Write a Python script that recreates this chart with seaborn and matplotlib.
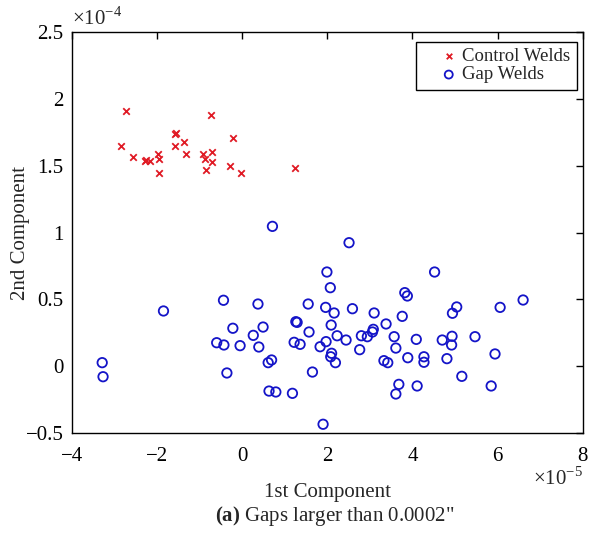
import matplotlib
matplotlib.use("Agg")
import matplotlib.pyplot as plt
import seaborn as sns
import pandas as pd

# 1st component in units of 1e-5, 2nd component in units of 1e-4
control_x = [-2.73, -0.74, -1.58, -1.56, -0.21, -2.85, -1.36, -1.57, -2.57, -2.28,
             -2.17, -2.25, -1.99, -1.96, -1.96, -1.32, -0.92, -0.88, -0.71, -0.71,
             -0.85, -0.28, -0.02, 1.25]
control_y = [1.905, 1.877, 1.733, 1.74, 1.706, 1.646, 1.673, 1.644, 1.564, 1.534,
             1.534, 1.54, 1.584, 1.547, 1.444, 1.584, 1.584, 1.547, 1.601, 1.529,
             1.467, 1.494, 1.442, 1.484]

gap_x = [0.71, -1.85, -0.44, 0.37, -0.22, 0.49, 0.26, -0.60, -0.43, -0.05,
         0.39, 0.61, 0.69, -0.36, -3.29, -3.27, 0.63, 0.79,
         2.51, 1.99, 4.52, 2.07, 3.82, 3.88, 6.60, 1.55, 1.96, 2.59,
         5.04, 4.94, 6.06, 2.16, 3.10, 3.76, 1.26, 1.29, 2.09, 3.38,
         1.57, 3.08, 3.06, 2.23, 2.80, 2.94, 3.57, 4.09, 4.70, 4.93,
         4.92, 5.47, 2.44, 1.22, 1.36, 1.83, 1.97, 2.76, 3.61, 2.10,
         2.08, 2.19, 4.27, 4.27, 3.89, 4.81, 5.94, 3.33, 3.42, 1.65,
         5.16, 3.68, 3.61, 4.11, 5.85, 1.18, 1.90]
gap_y = [1.046, 0.414, 0.494, 0.466, 0.285, 0.294, 0.232, 0.177, 0.160, 0.155,
         0.145, 0.028, 0.048, -0.049, 0.028, -0.077, -0.184, -0.191,
         0.924, 0.705, 0.705, 0.588, 0.551, 0.526, 0.496, 0.466, 0.441, 0.431,
         0.444, 0.397, 0.441, 0.399, 0.399, 0.374, 0.334, 0.329, 0.309, 0.317,
         0.257, 0.277, 0.257, 0.229, 0.229, 0.222, 0.222, 0.202, 0.197, 0.225,
         0.160, 0.222, 0.197, 0.180, 0.165, 0.147, 0.185, 0.125, 0.137, 0.098,
         0.072, 0.028, 0.072, 0.031, 0.065, 0.058, 0.093, 0.043, 0.028, -0.042,
         -0.074, -0.134, -0.206, -0.146, -0.146, -0.201, -0.432]

x_ticks = [-4, -2, 0, 2, 4, 6, 8]
y_ticks = [-0.5, 0, 0.5, 1, 1.5, 2, 2.5]
y_tick_labels = ["\u22120.5", "0", "0.5", "1", "1.5", "2", "2.5"]
x_tick_labels = ["\u22124", "\u22122", "0", "2", "4", "6", "8"]

df_c = pd.DataFrame({"x": control_x, "y": control_y})
df_g = pd.DataFrame({"x": gap_x, "y": gap_y})

sns.set_style("white")
plt.rcParams["font.family"] = ["Liberation Serif", "DejaVu Serif"]
plt.rcParams["mathtext.fontset"] = "custom"
plt.rcParams["mathtext.rm"] = "Liberation Serif"
plt.rcParams["mathtext.bf"] = "Liberation Serif:bold"

fig = plt.figure(figsize=(5.9, 5.37), dpi=100)
ax = fig.add_axes([0.122, 0.193, 0.8656, 0.748])

sns.scatterplot(data=df_c, x="x", y="y", ax=ax, marker="x", color="#e01a24",
                s=22, linewidth=1.3, label="Control Welds", zorder=3)
sns.scatterplot(data=df_g, x="x", y="y", ax=ax, marker="o", facecolors="none",
                edgecolor="#1414c8", s=46, linewidth=1.3, label="Gap Welds", zorder=3)

ax.set_xlim(-4, 8)
ax.set_ylim(-0.5, 2.5)
ax.set_xticks(x_ticks)
ax.set_xticklabels(x_tick_labels)
ax.set_yticks(y_ticks)
ax.set_yticklabels(y_tick_labels)
ax.tick_params(direction="in", length=5, width=1, top=True, right=True,
               labelsize=15, colors="black")
ax.tick_params(axis="x", pad=10)
ax.tick_params(axis="y", pad=6)
for sp in ax.spines.values():
    sp.set_color("black")
    sp.set_linewidth(1.0)

ax.set_xlabel("1st Component", fontsize=15, labelpad=12)
ax.set_ylabel("2nd Component", fontsize=15, labelpad=-3)

ax.text(0.0, 1.005, "\u00d710$^{\\mathregular{\u22124}}$", transform=ax.transAxes,
        fontsize=15, ha="left", va="bottom")
ax.text(1.0, -0.085, "\u00d710$^{\\mathregular{\u22125}}$", transform=ax.transAxes,
        fontsize=15, ha="right", va="top")

fig.text(0.567, 0.039, "$\\mathbf{(a)}$ Gaps larger than 0.0002\"", fontsize=15,
         ha="center", va="center")

leg = ax.legend(loc="upper right", fontsize=13.5, frameon=True, fancybox=False,
                framealpha=1, edgecolor="black", handletextpad=-0.7,
                borderpad=0.35, labelspacing=0.05, handlelength=2.8,
                borderaxespad=0, markerscale=0.85, bbox_to_anchor=(0.988, 0.975))
leg.get_frame().set_linewidth(1.0)

fig.savefig("out.png", dpi=100)
